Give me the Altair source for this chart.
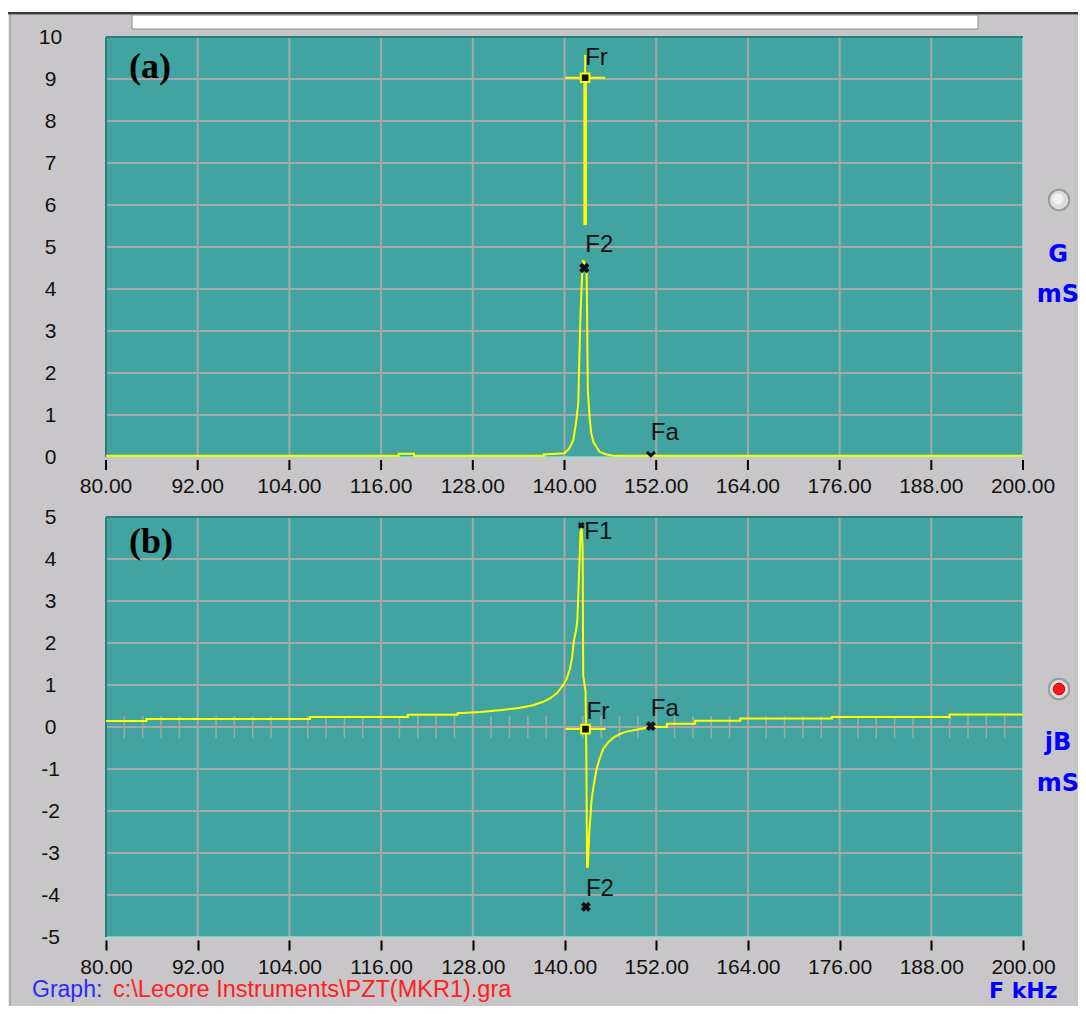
import altair as alt
import pandas as pd

# ------------------------------------------------------------------ data
freq_ticks = [80, 92, 104, 116, 128, 140, 152, 164, 176, 188, 200]
g_ticks = [0, 1, 2, 3, 4, 5, 6, 7, 8, 9, 10]
b_ticks = [-5, -4, -3, -2, -1, 0, 1, 2, 3, 4, 5]

# (a) conductance G (mS) vs frequency (kHz)
g_freq = [80, 118.3, 118.3, 120.3, 120.3, 137.3, 137.3, 140.0, 140.6, 141.15, 141.5,
          141.8, 141.95, 142.1, 142.3, 142.46, 142.65, 142.9, 143.05, 143.3, 143.5,
          143.8, 144.6, 145.5, 146.4, 200]
g_val = [0.03, 0.03, 0.08, 0.08, 0.03, 0.03, 0.06, 0.09, 0.2, 0.4, 0.8,
         1.28, 2.4, 3.43, 4.3, 4.69, 4.6, 4.38, 1.6, 0.9, 0.57,
         0.35, 0.12, 0.06, 0.03, 0.03]

# (b) susceptance jB (mS) vs frequency (kHz)
jb_freq = [80, 85.3, 85.3, 106.7, 106.7, 119.5, 119.5, 126, 126, 129, 131.5, 134,
           135.9, 137.2, 138.1, 139.0, 139.84, 140.3, 140.7, 141.0, 141.2, 141.5,
           141.67, 141.85, 142.1, 142.25, 142.37, 142.45, 142.75, 142.85, 142.95,
           143.05, 143.24, 143.56, 143.9, 144.2, 144.6, 145.07, 145.7, 146.4, 147.2,
           148.1, 149.9, 151.3, 153.4, 153.4, 157.1, 157.1, 163.0, 163.0, 175.0,
           175.0, 190.4, 190.4, 200]
jb_val = [0.14, 0.14, 0.19, 0.19, 0.24, 0.24, 0.29, 0.29, 0.33, 0.36, 0.4, 0.45,
          0.52, 0.6, 0.68, 0.8, 1.0, 1.15, 1.38, 1.65, 2.02, 2.3,
          2.5, 3.36, 4.64, 4.73, 4.3, 1.22, 0.86, -0.5, -3.33,
          -3.33, -2.51, -1.71, -1.3, -1.0, -0.75, -0.52, -0.37, -0.25, -0.17,
          -0.11, -0.05, 0.0, 0.0, 0.08, 0.08, 0.15, 0.15, 0.2, 0.2,
          0.24, 0.24, 0.3, 0.3]

# markers
a_fr = (142.7, 9.03)
a_f2 = (142.6, 4.5)
a_fa = (151.3, 0.03)
a_fr_line = (142.7, 5.52, 8.98)   # freq, low, high
b_f1 = (142.2, 4.8)
b_fr = (142.75, -0.05)
b_fa = (151.3, 0.02)
b_f2 = (142.8, -4.28)

# ------------------------------------------------------------------ style
TEAL = "#41a4a0"
GRID = "#a6a8a8"
YEL = "#ffff00"
BG = "#c8c6c8"
SANS = "Liberation Sans"
W, H = 917, 900

xs = alt.Scale(domain=[80, 200], nice=False, zero=False)
sa = alt.Scale(domain=[0, 10], range=[420, 0], nice=False, zero=False)
sb = alt.Scale(domain=[-5, 5], range=[900, 480], nice=False, zero=False)

xaxis_b = alt.Axis(orient="bottom", values=freq_ticks, format=".2f", grid=False,
                   domain=False, ticks=True, tickSize=10, tickWidth=2,
                   tickColor="#000000", offset=3, labelPadding=23,
                   labelBaseline="alphabetic", labelFont=SANS, labelFontSize=21,
                   labelColor="#111111", labelFlush=False, labelOverlap=False,
                   title=None)


def X(f):
    # every layer carries the same axis definition so the shared axis merges cleanly
    return alt.X(f, type="quantitative", scale=xs, axis=xaxis_b)


def YA(f, axis=None):
    return alt.Y(f, type="quantitative", scale=sa, axis=axis)


def YB(f, axis=None):
    return alt.Y(f, type="quantitative", scale=sb, axis=axis)


def yaxis(vals):
    return alt.Axis(orient="left", values=vals, grid=False, ticks=False, tickSize=0,
                    domain=False, labelAlign="center", labelBaseline="middle",
                    labelPadding=56, labelFont=SANS, labelFontSize=21,
                    labelColor="#111111", labelFlush=False, labelOverlap=False,
                    labelExpr="'' + datum.value", title=None)


DUMMY = pd.DataFrame({"d": [0]})


def one(f, v):
    return pd.DataFrame({"f": [f], "v": [v]})


def deco_rect(x1, x2, y1, y2, **kw):
    return alt.Chart(DUMMY).mark_rect(**kw).encode(
        x=alt.value(x1), x2=alt.value(x2), y=alt.value(y1), y2=alt.value(y2))


def deco_text(txt, x, y, **kw):
    return alt.Chart(DUMMY).mark_text(text=txt, **kw).encode(
        x=alt.value(x), y=alt.value(y))


layers = []

# window chrome
layers.append(deco_rect(-98, 972, -29, -25, color="#ffffff"))
layers.append(deco_rect(-98, 972, -25, -23, color="#3a3a3a"))
layers.append(deco_rect(-98, 972, -23, -22, color="#8a8a8a"))
layers.append(deco_rect(26, 872, -22, -8, fill="#ffffff", stroke="#8a8a8a", strokeWidth=1))
layers.append(deco_rect(-98, -96.5, -22, 969, color="#ececec"))
layers.append(deco_rect(-96.5, -95.5, -22, 969, color="#8c8c8c"))

# panel backgrounds (carry the y axes)
bg_a = pd.DataFrame({"x1": [80], "x2": [200], "y1": [0], "y2": [10]})
bg_b = pd.DataFrame({"x1": [80], "x2": [200], "y1": [-5], "y2": [5]})
layers.append(alt.Chart(bg_a).mark_rect(color=TEAL).encode(
    x=X("x1"), x2="x2", y=YA("y1", yaxis(g_ticks)), y2="y2"))
layers.append(alt.Chart(bg_b).mark_rect(color=TEAL).encode(
    x=X("x1"), x2="x2", y=YB("y1", yaxis(b_ticks)), y2="y2"))

# grids
inner = freq_ticks[1:-1]
vg_a = pd.DataFrame({"f": inner, "lo": [0] * len(inner), "hi": [10] * len(inner)})
vg_b = pd.DataFrame({"f": inner, "lo": [-5] * len(inner), "hi": [5] * len(inner)})
hg_a = pd.DataFrame({"v": g_ticks[1:-1], "x1": 80, "x2": 200})
hg_b = pd.DataFrame({"v": b_ticks[1:-1], "x1": 80, "x2": 200})
layers.append(alt.Chart(vg_a).mark_rule(color=GRID, strokeWidth=2).encode(
    x=X("f"), y=YA("lo"), y2="hi"))
layers.append(alt.Chart(vg_b).mark_rule(color=GRID, strokeWidth=2).encode(
    x=X("f"), y=YB("lo"), y2="hi"))
layers.append(alt.Chart(hg_a).mark_rule(color=GRID, strokeWidth=2).encode(
    y=YA("v"), x=X("x1"), x2="x2"))
layers.append(alt.Chart(hg_b).mark_rule(color=GRID, strokeWidth=2).encode(
    y=YB("v"), x=X("x1"), x2="x2"))

# minor ticks on the zero line of (b)
minor = []
for lo, hi in zip(freq_ticks[:-1], freq_ticks[1:]):
    step = (hi - lo) / 5
    minor += [lo + step * k for k in range(1, 5)]
mt = pd.DataFrame({"f": minor, "v": [0] * len(minor)})
layers.append(alt.Chart(mt).mark_rule(color=GRID, strokeWidth=1.5, yOffset=-11,
                                       y2Offset=11).encode(x=X("f"), y=YB("v"), y2="v"))

# panel bevels
for ydom, Yf in (([0, 10], YA), ([-5, 5], YB)):
    lo, hi = ydom
    top = pd.DataFrame({"x1": [80], "x2": [200], "v": [hi]})
    bot = pd.DataFrame({"x1": [80], "x2": [200], "v": [lo]})
    left = pd.DataFrame({"f": [80], "y1": [lo], "y2": [hi]})
    right = pd.DataFrame({"f": [200], "y1": [lo], "y2": [hi]})
    layers.append(alt.Chart(bot).mark_rule(color="#9fd8d4", strokeWidth=1.5).encode(
        y=Yf("v"), x=X("x1"), x2="x2"))
    layers.append(alt.Chart(right).mark_rule(color="#9fd8d4", strokeWidth=1.5).encode(
        x=X("f"), y=Yf("y1"), y2="y2"))
    layers.append(alt.Chart(top).mark_rule(color="#2c7f7b", strokeWidth=2).encode(
        y=Yf("v"), x=X("x1"), x2="x2"))
    layers.append(alt.Chart(left).mark_rule(color="#2c7f7b", strokeWidth=2).encode(
        x=X("f"), y=Yf("y1"), y2="y2"))

# x axis of panel (a): ticks and labels
xa = pd.DataFrame({"f": freq_ticks, "lab": [f"{v:.2f}" for v in freq_ticks]})
layers.append(alt.Chart(xa).mark_rule(color="#000000", strokeWidth=2).encode(
    x=X("f"), y=alt.value(423), y2=alt.value(433)))
layers.append(alt.Chart(xa).mark_text(font=SANS, fontSize=21, color="#111111",
                                      align="center", baseline="alphabetic").encode(
    x=X("f"), y=alt.value(456), text="lab:N"))

# curves
ga = pd.DataFrame({"f": g_freq, "v": g_val, "o": list(range(len(g_freq)))})
gb = pd.DataFrame({"f": jb_freq, "v": jb_val, "o": list(range(len(jb_freq)))})
layers.append(alt.Chart(ga).mark_line(color=YEL, strokeWidth=2).encode(
    x=X("f"), y=YA("v"), order="o:Q"))
layers.append(alt.Chart(gb).mark_line(color=YEL, strokeWidth=2).encode(
    x=X("f"), y=YB("v"), order="o:Q"))

# Fr thick cursor line in (a)
frl = pd.DataFrame({"f": [a_fr_line[0]], "lo": [a_fr_line[1]], "hi": [a_fr_line[2]]})
layers.append(alt.Chart(frl).mark_rule(color=YEL, strokeWidth=3.5).encode(
    x=X("f"), y=YA("lo"), y2="hi"))

# Fr crosshairs
for (f, v), Yf in ((a_fr, YA), (b_fr, YB)):
    layers.append(alt.Chart(one(f, v)).mark_rule(color=YEL, strokeWidth=2, xOffset=-20,
                                                 x2Offset=20).encode(
        x=X("f"), x2="f", y=Yf("v")))
layers.append(alt.Chart(one(*a_fr)).mark_rule(color=YEL, strokeWidth=2, yOffset=-5,
                                              y2Offset=-23).encode(
    x=X("f"), y=YA("v"), y2="v"))

# square markers (Fr)
for (f, v), Yf in ((a_fr, YA), (b_fr, YB)):
    layers.append(alt.Chart(one(f, v)).mark_point(shape="square", size=75, filled=True,
                                                  fill="#111111", stroke=YEL,
                                                  strokeWidth=2, opacity=1).encode(
        x=X("f"), y=Yf("v")))

# x markers
for (f, v), Yf, sz in ((a_f2, YA, 110), (b_fa, YB, 100), (b_f2, YB, 100), (b_f1, YB, 45)):
    layers.append(alt.Chart(one(f, v)).mark_point(shape="cross", angle=45, size=sz,
                                                  filled=True, color="#111111",
                                                  opacity=1).encode(
        x=X("f"), y=Yf("v")))
# Fa in (a) clipped at the bottom edge: only the upper half of the x shows
layers.append(alt.Chart(one(*a_fa)).mark_point(shape="M -1 -1 L 0 0 L 1 -1", size=60,
                                               filled=False, stroke="#111111",
                                               strokeWidth=3, opacity=1).encode(
    x=X("f"), y=YA("v")))

# marker labels
LAB = dict(align="left", baseline="alphabetic", font=SANS, fontSize=24, color="#111111")
for name, (f, v), Yf, dx, dy in (("Fr", a_fr, YA, 0, -13), ("F2", a_f2, YA, 1, -16),
                                 ("Fa", a_fa, YA, 0, -16), ("F1", b_f1, YB, 3, 14),
                                 ("Fr", b_fr, YB, 1, -10), ("Fa", b_fa, YB, 0, -10),
                                 ("F2", b_f2, YB, 0, -11)):
    layers.append(alt.Chart(one(f, v)).mark_text(text=name, dx=dx, dy=dy, **LAB).encode(
        x=X("f"), y=Yf("v")))

# panel tags
TAG = dict(align="left", baseline="alphabetic", font="Liberation Serif",
           fontSize=36, fontWeight="bold", color="#000000")
layers.append(deco_text("(a)", 23, 41, **TAG))
layers.append(deco_text("(b)", 23, 516, **TAG))

# right-hand radio buttons and unit labels
for cy in (163, 652):
    layers.append(alt.Chart(DUMMY).mark_point(shape="circle", size=420, filled=True,
                                              fill="#dcdcdc", stroke="#9a9a9a",
                                              strokeWidth=2, opacity=1).encode(
        x=alt.value(953), y=alt.value(cy)))
layers.append(alt.Chart(DUMMY).mark_point(shape="circle", size=130, filled=True,
                                          fill="#ff1a1a", stroke="#c00000",
                                          strokeWidth=1, opacity=1).encode(
    x=alt.value(953), y=alt.value(652)))
layers.append(alt.Chart(DUMMY).mark_point(shape="circle", size=120, filled=True,
                                          fill="#f2f2f2", opacity=1).encode(
    x=alt.value(952), y=alt.value(162)))

UNIT = dict(align="center", baseline="alphabetic", font="DejaVu Sans", fontSize=24,
            fontWeight="bold", color="#0000ff")
layers.append(deco_text("G", 952, 225, **UNIT))
layers.append(deco_text("mS", 952, 265, **UNIT))
layers.append(deco_text("jB", 952, 713, **UNIT))
layers.append(deco_text("mS", 952, 754, **UNIT))
layers.append(deco_text("F kHz", 883, 961, align="left", baseline="alphabetic",
                        font="DejaVu Sans", fontSize=22, fontWeight="bold",
                        color="#0000ff"))

# footer
layers.append(deco_text("Graph:", -74, 960, align="left", baseline="alphabetic",
                        font=SANS, fontSize=23, color="#2a2aff"))
layers.append(deco_text("c:\\Lecore Instruments\\PZT(MKR1).gra", 7, 960, align="left",
                        baseline="alphabetic", font=SANS, fontSize=23.5,
                        color="#ff2020"))

chart = alt.layer(*layers).resolve_scale(y="independent").properties(
    width=W, height=H,
    autosize=alt.AutoSizeParams(type="none"),
    padding={"left": 98, "top": 29, "right": 55, "bottom": 69},
    background=BG,
).configure_view(stroke=None)

chart.save("out.html", embed_options={"renderer": "svg", "actions": False})
